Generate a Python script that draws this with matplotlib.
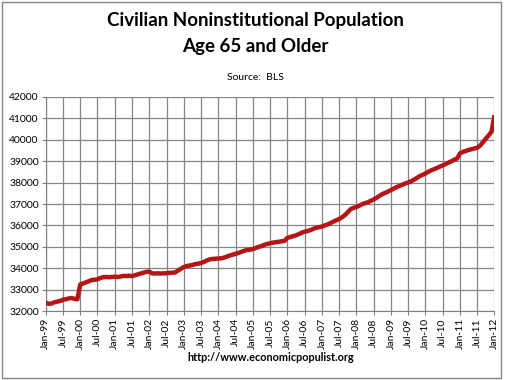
import matplotlib
matplotlib.use("Agg")
import matplotlib.pyplot as plt
import numpy as np
import pandas as pd

# monthly values (thousands)
y1999 = [32400, 32350, 32360, 32420, 32450, 32480, 32540, 32560, 32600, 32620, 32580, 32560]
y2000 = [33250, 33300, 33350, 33400, 33460, 33470, 33490, 33550, 33590, 33600, 33590, 33600]
y2001 = [33610, 33600, 33620, 33650, 33640, 33660, 33640, 33680, 33720, 33760, 33800, 33840]
y2002 = [33850, 33770, 33760, 33770, 33760, 33770, 33770, 33790, 33800, 33810, 33900, 33980]
y2003 = [34060, 34110, 34130, 34160, 34200, 34220, 34250, 34300, 34370, 34420, 34440, 34450]
y2004 = [34460, 34470, 34500, 34550, 34600, 34640, 34680, 34720, 34770, 34820, 34860, 34870]
y2005 = [34900, 34950, 35000, 35040, 35100, 35140, 35170, 35200, 35220, 35240, 35260, 35280]
y2006 = [35420, 35460, 35500, 35540, 35600, 35660, 35710, 35740, 35780, 35840, 35890, 35920]
y2007 = [35950, 36000, 36050, 36110, 36180, 36240, 36300, 36380, 36480, 36620, 36760, 36820]
y2008 = [36860, 36920, 36990, 37040, 37080, 37150, 37210, 37290, 37380, 37460, 37520, 37580]
y2009 = [37650, 37720, 37790, 37840, 37900, 37960, 38000, 38060, 38130, 38210, 38300, 38360]
y2010 = [38420, 38500, 38570, 38620, 38680, 38740, 38800, 38860, 38930, 38990, 39060, 39120]
y2011 = [39360, 39430, 39470, 39520, 39550, 39590, 39620, 39720, 39880, 40050, 40200, 40380]
y2012 = [41140]

values = (y1999 + y2000 + y2001 + y2002 + y2003 + y2004 + y2005 + y2006 +
          y2007 + y2008 + y2009 + y2010 + y2011 + y2012)
months = pd.date_range("1999-01-01", periods=len(values), freq="MS")
x = np.arange(len(values))

tick_pos = x[::6]
tick_labels = [m.strftime("%b-%y") for m in months[::6]]

plt.rcParams['font.family'] = ['Lato', 'DejaVu Sans']

fig = plt.figure(figsize=(5.1, 3.8), dpi=100)
ax = fig.add_axes([0.0896, 0.1808, 0.88, 0.5647])

ax.plot(x, values, color='#b51515', linewidth=3.2, solid_capstyle='butt', zorder=3)

ax.set_xlim(0, len(values) - 1)
ax.set_ylim(32000, 42000)
ax.set_yticks(np.arange(32000, 42001, 1000))
ax.set_xticks(tick_pos)
ax.set_xticklabels(tick_labels, rotation=90, fontsize=7.5)
ax.tick_params(axis='y', labelsize=7.5, length=3, color='#808080', pad=2)
ax.tick_params(axis='x', length=3, color='#808080', pad=2)
ax.grid(True, color='#858585', linewidth=0.9)
ax.set_axisbelow(True)
for s in ['top', 'right']:
    ax.spines[s].set_visible(False)
for s in ['left', 'bottom']:
    ax.spines[s].set_color('#808080')

fig.text(0.5, 0.945, "Civilian Noninstitutional Population", ha='center', va='center',
         fontsize=13.5, fontweight='bold')
fig.text(0.5, 0.877, "Age 65 and Older", ha='center', va='center',
         fontsize=13.5, fontweight='bold')
fig.text(0.5, 0.797, "Source:  BLS", ha='center', va='center', fontsize=7.5)
fig.text(0.53, 0.058, "http://www.economicpopulist.org", ha='center', va='center',
         fontsize=7.8, fontweight='bold')

fig.patches.append(plt.Rectangle((0.004, 0.005), 0.978, 0.99, transform=fig.transFigure,
                                 fill=False, edgecolor='#888888', linewidth=1))

fig.savefig("out.png", dpi=100)
